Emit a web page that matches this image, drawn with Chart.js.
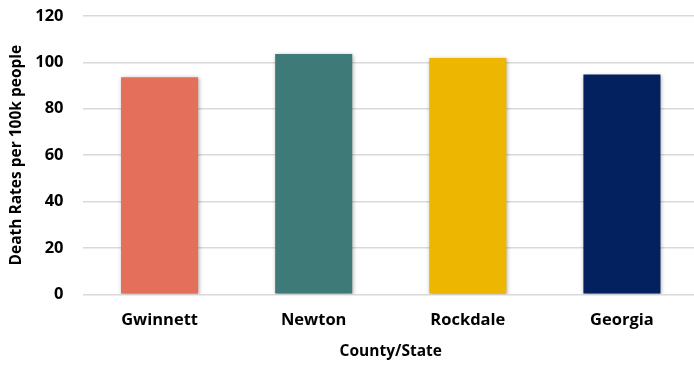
<!DOCTYPE html>
<html>
<head>
<meta charset="utf-8">
<script src="https://cdn.jsdelivr.net/npm/chart.js@4"></script>
<style>
  html, body { margin: 0; padding: 0; background: #fff; overflow: hidden; }
  #wrap { width: 699px; height: 378px; position: relative; margin-top: -13px; }
</style>
</head>
<body>
<div id="wrap"><canvas id="myChartRates"></canvas></div>
<script>
// data
var counties = ["Gwinnett", "Newton", "Rockdale", "Georgia"];
var deathRates = [93.6, 103.6, 101.9, 94.7];
var barColors = ["#E4705C", "#3D7A78", "#EDB600", "#03215E"];

var tickFont = { family: "'Open Sans', sans-serif", size: 16.5, weight: "bold" };
var titleFont = { family: "'Open Sans', sans-serif", size: 15.5, weight: "bold" };

// soft shadow behind the bars
var barShadow = {
  id: "barShadow",
  beforeDatasetsDraw: function (chart) {
    var ctx = chart.ctx;
    ctx.save();
    ctx.shadowColor = "rgba(0, 0, 0, 0.35)";
    ctx.shadowBlur = 4;
    ctx.shadowOffsetX = 1;
    ctx.shadowOffsetY = 1;
  },
  afterDatasetsDraw: function (chart) {
    chart.ctx.restore();
  },
};

var chRates = document.getElementById("myChartRates").getContext("2d");

var myChartRates = new Chart(chRates, {
  type: "bar",
  plugins: [barShadow],
  data: {
    labels: counties,
    datasets: [
      {
        label: "Death Rates per 100k people",
        data: deathRates,
        backgroundColor: barColors,
        borderWidth: 0,
        barPercentage: 0.5,
        categoryPercentage: 1,
      },
    ],
  },
  options: {
    responsive: true,
    maintainAspectRatio: false,
    animation: false,
    layout: { padding: { top: 2, right: 0, bottom: 0, left: 0 } },
    plugins: {
      legend: { display: false },
      tooltip: { enabled: false },
    },
    scales: {
      x: {
        grid: { display: false },
        border: { display: false },
        ticks: { color: "#000", font: tickFont, padding: 8 },
        title: {
          display: true,
          text: "County/State",
          color: "#000",
          font: titleFont,
          padding: { top: 6, bottom: 4 },
        },
        afterFit: function (scale) {
          scale.height = 70.7;
        },
      },
      y: {
        min: 0,
        max: 120,
        ticks: { stepSize: 20, color: "#000", font: tickFont, padding: 19 },
        grid: { color: "#d9d9d9", lineWidth: 1.5, drawTicks: false },
        border: { display: false },
        title: {
          display: true,
          text: "Death Rates per 100k people",
          color: "#000",
          font: titleFont,
          padding: { top: 7, bottom: 0 },
        },
        afterFit: function (scale) {
          scale.width = 82.5;
        },
      },
    },
  },
});
</script>
</body>
</html>
